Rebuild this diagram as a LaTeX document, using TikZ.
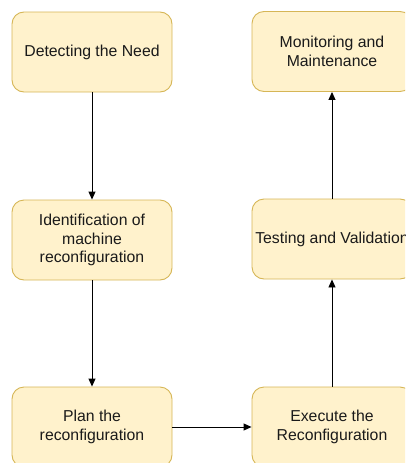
\documentclass[tikz,border=0pt]{standalone}
\usepackage{fontspec}
\setmainfont{Liberation Sans}
\usetikzlibrary{arrows.meta}
\definecolor{boxfill}{HTML}{FFF2CC}
\definecolor{boxline}{HTML}{D6B656}
\definecolor{txt}{HTML}{1A1A1A}
\begin{document}
\begin{tikzpicture}[x=1pt,y=-1pt,
  stepbox/.style={draw=boxline, fill=boxfill, line width=0.9pt, rounded corners=12pt,
    minimum width=160pt, minimum height=80pt, inner sep=0pt, align=center,
    text=txt, font=\fontsize{15.8}{18.8}\selectfont},
  flow/.style={-{Triangle[length=8pt,width=7pt]}, line width=0.9pt, black}]
  \useasboundingbox (0,0) rectangle (405,463);
  \clip (0,0) rectangle (405,463);
  \node[stepbox] (need) at (92,52) {Detecting the Need};
  \node[stepbox] (ident) at (92,240) {Identification of\\machine\\reconfiguration};
  \node[stepbox] (plan) at (92,427) {Plan the\\reconfiguration};
  \node[stepbox] (exec) at (332,427) {Execute the\\Reconfiguration};
  \node[stepbox] (test) at (332,239) {\makebox[0pt]{Testing and Validation}};
  \node[stepbox] (mon) at (332,51.5) {Monitoring and\\Maintenance};
  \draw[flow] (need) -- (ident);
  \draw[flow] (ident) -- (plan);
  \draw[flow] (plan) -- (exec);
  \draw[flow] (exec) -- (test);
  \draw[flow] (test) -- (mon);
\end{tikzpicture}
\end{document}
